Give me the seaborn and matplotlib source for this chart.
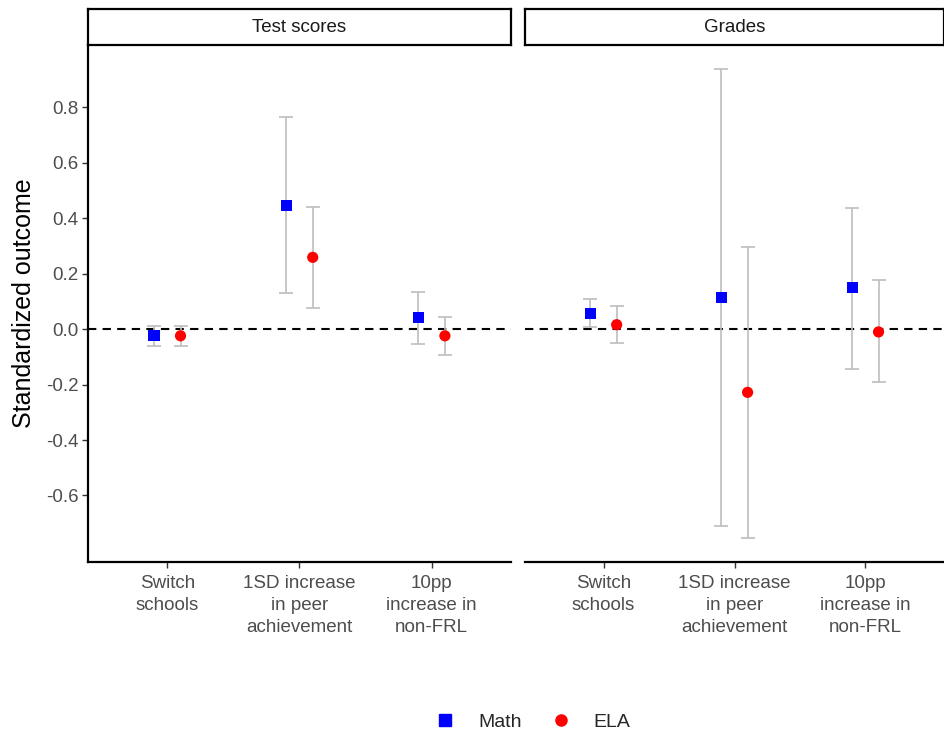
import matplotlib
matplotlib.use("Agg")
import matplotlib.pyplot as plt
from matplotlib.lines import Line2D
import numpy as np
import pandas as pd
import seaborn as sns

# data
panels = ["Test scores", "Grades"]
categories = ["Switch\nschools", "1SD increase\nin peer\nachievement", "10pp\nincrease in\nnon-FRL"]
subjects = ["Math", "ELA"]

test_math = [-0.024, 0.447, 0.042]
test_math_lo = [-0.060, 0.130, -0.053]
test_math_hi = [0.013, 0.765, 0.135]
test_ela = [-0.024, 0.259, -0.024]
test_ela_lo = [-0.060, 0.078, -0.093]
test_ela_hi = [0.013, 0.442, 0.044]

grade_math = [0.056, 0.113, 0.149]
grade_math_lo = [0.006, -0.711, -0.142]
grade_math_hi = [0.110, 0.937, 0.437]
grade_ela = [0.016, -0.228, -0.010]
grade_ela_lo = [-0.050, -0.755, -0.192]
grade_ela_hi = [0.083, 0.298, 0.178]

rows = []
for panel, series in [("Test scores", [(test_math, test_math_lo, test_math_hi), (test_ela, test_ela_lo, test_ela_hi)]),
                      ("Grades", [(grade_math, grade_math_lo, grade_math_hi), (grade_ela, grade_ela_lo, grade_ela_hi)])]:
    for subj, (est, lo, hi) in zip(subjects, series):
        for i, cat in enumerate(categories):
            rows.append(dict(panel=panel, cat=cat, idx=i, subject=subj, est=est[i], lo=lo[i], hi=hi[i]))
df = pd.DataFrame(rows)
dodge = {"Math": -0.1, "ELA": 0.1}
df["x"] = df["idx"] + df["subject"].map(dodge)

sns.set_theme(style="white")
plt.rcParams["font.family"] = ["Liberation Sans", "DejaVu Sans"]

fig = plt.figure(figsize=(9.45, 7.37), dpi=100)
W, H = 945, 737
ax_boxes = [(88, 511), (525, 944)]
top, bottom = 45, 562
palette = {"Math": "#0000FF", "ELA": "#FF0000"}
markers = {"Math": "s", "ELA": "o"}

axes = []
for k, panel in enumerate(panels):
    l, r = ax_boxes[k]
    ax = fig.add_axes([l / W, 1 - bottom / H, (r - l) / W, (bottom - top) / H])
    axes.append(ax)
    sub = df[df["panel"] == panel]
    ax.axhline(0, color="black", ls=(0, (4, 3)), lw=1.5, zorder=1)
    for _, row in sub.iterrows():
        ax.errorbar(row["x"], row["est"], yerr=[[row["est"] - row["lo"]], [row["hi"] - row["est"]]],
                    fmt="none", ecolor="#BEBEBE", elinewidth=1.2, capsize=4.7, capthick=1.2, zorder=2)
    sns.scatterplot(data=sub, x="x", y="est", hue="subject", style="subject",
                    palette=palette, markers=markers, s=65, linewidth=0,
                    ax=ax, legend=False, zorder=3)
    ax.set_xlim(-0.6, 2.6)
    ax.set_ylim(-0.84, 1.025)
    ax.set_xticks(range(len(categories)))
    ax.set_xticklabels(categories, fontsize=13.5, color="#4D4D4D", linespacing=1.42)
    ax.set_xlabel("")
    ax.set_yticks([-0.6, -0.4, -0.2, 0.0, 0.2, 0.4, 0.6, 0.8])
    ax.tick_params(axis="both", length=4, width=1, color="#333333", direction="out",
                   left=(k == 0), bottom=True)
    ax.tick_params(axis="x", pad=5)
    ax.tick_params(axis="y", pad=3)
    for s in ["top", "right"]:
        ax.spines[s].set_visible(False)
    ax.spines["bottom"].set_color("black")
    ax.spines["bottom"].set_linewidth(1.6)
    if k == 0:
        ax.spines["left"].set_color("black")
        ax.spines["left"].set_linewidth(1.6)
        ax.set_yticklabels([f"{v:.1f}" for v in ax.get_yticks()], fontsize=13.5, color="#4D4D4D")
        ax.set_ylabel("Standardized outcome", fontsize=18, color="black", labelpad=7)
    else:
        ax.spines["left"].set_visible(False)
        ax.set_yticklabels([])
        ax.set_ylabel("")
    # facet strip
    sax = fig.add_axes([l / W, 1 - 45 / H, (r - l) / W, 36 / H])
    sax.set_xticks([])
    sax.set_yticks([])
    for s in sax.spines.values():
        s.set_visible(True)
        s.set_color("black")
        s.set_linewidth(1.6)
    sax.text(0.5, 0.5, panel, ha="center", va="center", fontsize=13.5, color="#1A1A1A",
             transform=sax.transAxes)

handles = [Line2D([], [], marker=markers[s], color=palette[s], ls="none", markersize=8) for s in subjects]
fig.legend(handles, subjects, loc="center", bbox_to_anchor=(533 / W, 1 - 722 / H), ncol=2,
           frameon=False, fontsize=14, handlelength=1.0, handletextpad=1.2, columnspacing=1.5)

fig.savefig("out.png", dpi=100)
